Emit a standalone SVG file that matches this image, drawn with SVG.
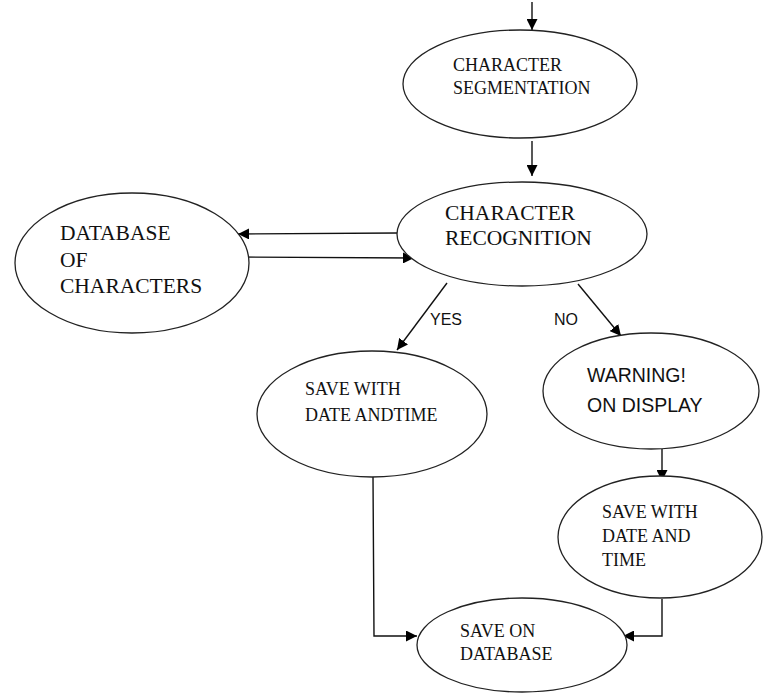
<svg xmlns="http://www.w3.org/2000/svg" width="763" height="693" viewBox="0 0 763 693">
<defs>
<marker id="ah" viewBox="0 0 10 10" refX="10" refY="5" markerWidth="11" markerHeight="11" markerUnits="userSpaceOnUse" orient="auto">
<path d="M0,0 L10,5 L0,10 Z" fill="#000"/>
</marker>
</defs>
<style>
.n{fill:#fff;stroke:#222;stroke-width:1.3}
.c{fill:none;stroke:#111;stroke-width:1.4;marker-end:url(#ah)}
.s{font-family:"Liberation Serif","Times New Roman",serif;fill:#111}
.a{font-family:"Liberation Sans",Arial,sans-serif;fill:#111}
</style>
<rect width="763" height="693" fill="#fff"/>
<g id="connectors">
<line class="c" x1="532" y1="2" x2="532" y2="30"/>
<line class="c" x1="532" y1="141" x2="532" y2="176"/>
<line class="c" x1="397" y1="233" x2="238" y2="234"/>
<line class="c" x1="240" y1="257" x2="414" y2="258"/>
<line class="c" x1="447" y1="283" x2="397" y2="350"/>
<line class="c" x1="578" y1="284" x2="621" y2="336"/>
<line class="c" x1="662" y1="449" x2="662" y2="481"/>
<polyline class="c" points="373,476 374,636 417,636"/>
<polyline class="c" points="662,599 662,636 623,636"/>
<text class="a" x="430" y="325" font-size="16">YES</text>
<text class="a" x="554" y="325" font-size="16">NO</text>
</g>
<g id="seg">
<ellipse class="n" cx="520" cy="84" rx="117" ry="54"/>
<text class="s" x="453" y="71" font-size="18">CHARACTER</text>
<text class="s" x="453" y="94" font-size="18">SEGMENTATION</text>
</g>
<g id="rec">
<ellipse class="n" cx="522" cy="234" rx="125" ry="52"/>
<text class="s" x="445" y="220" font-size="21.5">CHARACTER</text>
<text class="s" x="445" y="245" font-size="21.5">RECOGNITION</text>
</g>
<g id="db">
<ellipse class="n" cx="132" cy="263" rx="117" ry="70"/>
<text class="s" x="60" y="240" font-size="21.5">DATABASE</text>
<text class="s" x="60" y="267" font-size="21.5">OF</text>
<text class="s" x="60" y="293" font-size="21.5">CHARACTERS</text>
</g>
<g id="save1">
<ellipse class="n" cx="372" cy="414" rx="115" ry="63"/>
<text class="s" x="305" y="395" font-size="18">SAVE WITH</text>
<text class="s" x="305" y="421" font-size="18">DATE ANDTIME</text>
</g>
<g id="warn">
<ellipse class="n" cx="651" cy="391" rx="108" ry="58"/>
<text class="a" x="587" y="382" font-size="19.5">WARNING!</text>
<text class="a" x="587" y="412" font-size="19.5">ON DISPLAY</text>
</g>
<g id="save2">
<ellipse class="n" cx="660" cy="537" rx="102" ry="61"/>
<text class="s" x="602" y="518" font-size="18">SAVE WITH</text>
<text class="s" x="602" y="542" font-size="18">DATE AND</text>
<text class="s" x="602" y="566" font-size="18">TIME</text>
</g>
<g id="savedb">
<ellipse class="n" cx="522" cy="645" rx="105" ry="47"/>
<text class="s" x="460" y="637" font-size="18">SAVE ON</text>
<text class="s" x="460" y="660" font-size="18">DATABASE</text>
</g>
</svg>
